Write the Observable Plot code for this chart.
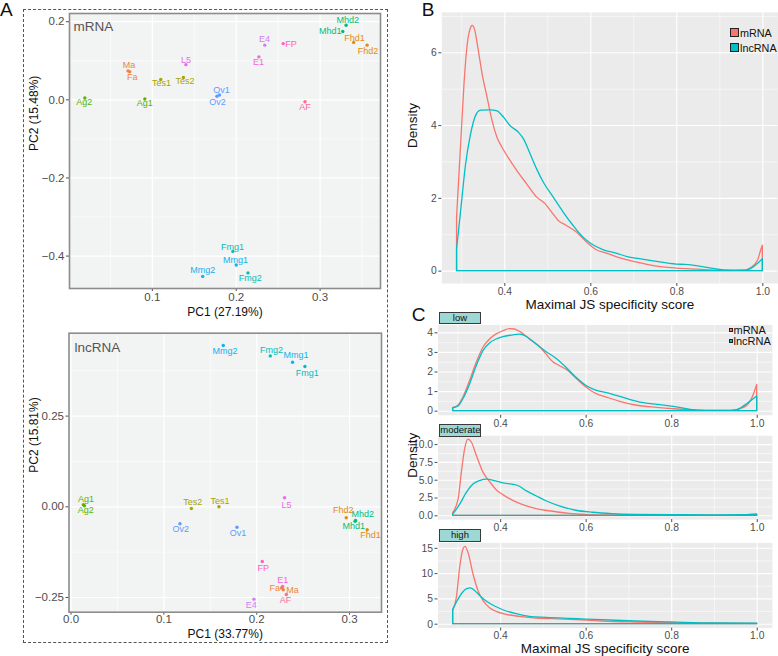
<!DOCTYPE html>
<html><head><meta charset="utf-8">
<script src="https://cdn.jsdelivr.net/npm/d3@7"></script>
<script src="https://cdn.jsdelivr.net/npm/@observablehq/plot@0.6"></script>
<style>
body{margin:0;background:#fff;}
#root{position:relative;width:778px;height:656px;font-family:"Liberation Sans",Arial,Helvetica,sans-serif;overflow:hidden;background:#fff}
.lbl{position:absolute;white-space:nowrap}
</style>
</head><body><div id="root"></div>
<script>
// ---------- Panel A data ----------
const groupNames  = ["AF","Ag","E1","E4","FP","Fa","Fhd","Fmg","L5","Ma","Mhd","Mmg","Ov","Tes"];
const groupColors = ["#FF6A98","#5BB300","#F564D9","#D27EF3","#FF61BF","#F0843F","#E38B10","#00BFB9","#E96BEA","#F0843F","#00BE78","#12B2EE","#5F9BFF","#A8A400"];

const mrnaNames   = ["Ag2","Ag1","Ma","Fa","Tes1","Tes2","L5","Ov1","Ov2","E1","E4","FP","AF","Mhd1","Mhd2","Fhd1","Fhd2","Fmg1","Mmg1","Mmg2","Fmg2"];
const mrnaPC1     = [0.0195,0.091,0.071,0.073,0.110,0.137,0.140,0.180,0.177,0.227,0.234,0.256,0.282,0.327,0.331,0.340,0.356,0.196,0.200,0.160,0.214];
const mrnaPC2     = [0.0045,0.002,0.074,0.072,0.052,0.057,0.090,0.0125,0.009,0.110,0.140,0.144,-0.005,0.175,0.191,0.147,0.140,-0.388,-0.423,-0.452,-0.443];
const mrnaLabPC1  = [0.0188,0.091,0.072,0.076,0.111,0.139,0.140,0.1824,0.1776,0.2266,0.2337,0.2653,0.282,0.3122,0.333,0.3409,0.357,0.1956,0.1992,0.1602,0.2167];
const mrnaLabPC2  = [-0.006,-0.009,0.088,0.058,0.043,0.047,0.1025,0.025,-0.005,0.097,0.156,0.142,-0.019,0.1767,0.203,0.159,0.1256,-0.376,-0.4106,-0.4352,-0.4573];
const mrnaXTicks  = [0.1,0.2,0.3];
const mrnaXMinor  = [0.05,0.15,0.25,0.35];
const mrnaYTicks  = [-0.4,-0.2,0,0.2];
const mrnaYMinor  = [-0.3,-0.1,0.1];

const lncNames    = ["Mmg2","Fmg2","Mmg1","Fmg1","Ag1","Ag2","Tes2","Tes1","L5","Ov2","Ov1","Fhd2","Mhd2","Mhd1","Fhd1","FP","E1","Fa","Ma","AF","E4"];
const lncPC1      = [0.164,0.2146,0.2386,0.2519,0.0133,0.0144,0.1296,0.1593,0.230,0.1173,0.1787,0.2964,0.3065,0.306,0.319,0.206,0.2279,0.2268,0.2286,0.2319,0.197];
const lncPC2      = [0.4446,0.416,0.3986,0.3867,0.0055,0.003,-0.0047,0.0,0.0248,-0.0469,-0.0562,-0.0303,-0.0378,-0.040,-0.0634,-0.1508,-0.2197,-0.224,-0.2288,-0.2417,-0.2545];
const lncLabPC1   = [0.1658,0.216,0.2422,0.2545,0.0161,0.0158,0.131,0.1604,0.2322,0.1181,0.1798,0.2932,0.3143,0.3046,0.3226,0.2071,0.2279,0.2193,0.2386,0.2311,0.1942];
const lncLabPC2   = [0.4289,0.4327,0.417,0.3683,0.0201,-0.0094,0.0127,0.0154,0.0055,-0.0626,-0.0728,-0.0102,-0.0212,-0.0535,-0.0772,-0.17,-0.2012,-0.2252,-0.2288,-0.2583,-0.2712];
const lncXTicks   = [0,0.1,0.2,0.3];
const lncXMinor   = [0.05,0.15,0.25];
const lncYTicks   = [-0.25,0,0.25];
const lncYMinor   = [-0.125,0.125,0.375];

// ---------- Panels B / C data ----------
const seriesNames  = ["mRNA","lncRNA"];
const seriesColors = ["#F8766D","#00BFC4"];
const densXTicks = [0.4,0.6,0.8,1.0];
const densXMinor = [0.3,0.5,0.7,0.9];

const bMrnaX = [0.289,0.2985,0.3062,0.3138,0.32,0.3254,0.3308,0.3385,0.3485,0.36,0.3715,0.3831,0.3946,0.4062,0.4292,0.4523,0.4754,0.4946,0.51,0.5254,0.5446,0.5677,0.5908,0.6138,0.6369,0.6754,0.7138,0.75,0.8,0.85,0.9,0.93,0.958,0.974,0.989,0.997,1.0];
const bMrnaY = [1.47,3.48,5.12,6.22,6.63,6.74,6.63,6.13,5.40,4.76,4.12,3.66,3.39,3.16,2.75,2.38,2.02,1.84,1.61,1.38,1.24,1.06,0.79,0.575,0.484,0.33,0.22,0.13,0.07,0.04,0.01,0.0,0.01,0.09,0.29,0.6,0.7];
const bLncX  = [0.289,0.2985,0.31,0.3215,0.3331,0.3446,0.3677,0.3831,0.3985,0.4138,0.4331,0.4446,0.46,0.4754,0.4908,0.5138,0.5369,0.56,0.5831,0.6023,0.6292,0.66,0.6908,0.7138,0.75,0.8,0.82,0.85,0.88,0.91,0.96,0.977,0.989,1.0];
const bLncY  = [0.6,1.65,2.93,3.75,4.26,4.41,4.42,4.39,4.21,3.98,3.80,3.62,3.21,2.79,2.43,2.02,1.61,1.24,0.92,0.74,0.58,0.48,0.37,0.33,0.26,0.18,0.17,0.13,0.07,0.02,0.01,0.09,0.2,0.33];
const bYTicks = [0,2,4,6];
const bYMinor = [1,3,5,7];

const lowMrnaX = [0.289,0.3016,0.3132,0.3287,0.3442,0.3597,0.3752,0.3907,0.4062,0.4217,0.4333,0.4488,0.4682,0.4915,0.507,0.5225,0.538,0.5574,0.5767,0.6,0.6233,0.6465,0.6775,0.7163,0.766,0.805,0.844,0.883,0.94,0.969,0.988,1.0];
const lowMrnaY = [0.15,0.29,0.71,1.55,2.48,3.24,3.66,3.92,4.08,4.19,4.17,4.0,3.66,3.29,2.9,2.51,2.31,2.06,1.67,1.22,0.88,0.71,0.49,0.29,0.17,0.10,0.05,0.02,0.02,0.17,0.63,1.34];
const lowLncX  = [0.289,0.3016,0.3132,0.3287,0.3442,0.3597,0.3752,0.3907,0.4062,0.4256,0.445,0.4605,0.4837,0.507,0.5302,0.5535,0.5767,0.6,0.6233,0.6465,0.6698,0.7008,0.7318,0.766,0.805,0.844,0.883,0.94,0.953,0.977,1.0];
const lowLncY  = [0.15,0.24,0.62,1.38,2.31,3.07,3.46,3.66,3.78,3.86,3.91,3.8,3.4,3.02,2.68,2.23,1.72,1.30,1.05,0.93,0.79,0.59,0.42,0.32,0.22,0.07,0.02,0.02,0.05,0.37,0.75];
const lowYTicks = [0,1,2,3,4];
const lowYMinor = [0.5,1.5,2.5,3.5];

const modMrnaX = [0.289,0.3016,0.3093,0.317,0.3248,0.3326,0.3442,0.3597,0.3752,0.3907,0.4062,0.4295,0.4527,0.4837,0.5225,0.5612,0.6,0.6775,0.75,0.85,0.95,1.0];
const modMrnaY = [0.4,2.27,6.07,9.38,10.7,10.3,8.44,6.07,4.74,3.6,2.9,2.1,1.5,0.95,0.57,0.28,0.14,0.05,0.03,0.02,0.02,0.05];
const modLncX  = [0.289,0.3054,0.3209,0.3364,0.3519,0.3674,0.3868,0.4062,0.4295,0.445,0.4605,0.4837,0.507,0.538,0.5767,0.6155,0.662,0.716,0.8,0.9,0.97,1.0];
const modLncY  = [0.15,1.56,3.22,4.41,4.88,5.07,4.88,4.55,4.36,4.08,3.46,2.75,2.04,1.33,0.71,0.43,0.24,0.14,0.1,0.06,0.08,0.2];
const modYTicks = [0,2.5,5,7.5,10];
const modYMinor = [1.25,3.75,6.25,8.75];

const highMrnaX = [0.289,0.2977,0.3054,0.3132,0.3178,0.3248,0.3364,0.3481,0.3597,0.3752,0.3907,0.414,0.445,0.4837,0.5225,0.5612,0.6,0.6388,0.7163,0.8,0.9,1.0];
const highMrnaY = [2.63,5.26,11.2,14.8,15.3,14.1,9.87,6.58,4.6,3.16,2.43,1.84,1.45,1.12,0.99,0.86,0.72,0.53,0.33,0.2,0.1,0.05];
const highLncX  = [0.289,0.2977,0.3093,0.3209,0.3302,0.3403,0.3519,0.3674,0.3868,0.4062,0.4372,0.4682,0.507,0.5612,0.6,0.6388,0.7163,0.8,0.9,1.0];
const highLncY  = [2.83,4.28,5.92,6.91,7.1,6.58,5.59,4.47,3.49,2.76,1.97,1.45,1.25,1.05,0.92,0.79,0.53,0.35,0.15,0.1];
const highYTicks = [0,5,10,15];
const highYMinor = [2.5,7.5,12.5];

const strips = ["low","moderate","high"];

// ---------- helpers ----------
const FONT = '"Liberation Sans", Arial, Helvetica, sans-serif';
const root = document.getElementById("root");
function place(node, l, t){ node.style.position="absolute"; node.style.left=l+"px"; node.style.top=t+"px"; root.appendChild(node); return node; }
function div(text, l, t, css){ const d=document.createElement("div"); d.className="lbl"; d.textContent=text; Object.assign(d.style, css||{}); return place(d,l,t); }
const groupOf = n => n.length > 2 ? n.replace(/\d$/,"") : n;
const f1 = d3.format(".1f"), f2 = d3.format(".2f"), f0 = d3.format("d");

function scatterPanel(c){
  const data = c.names.map((n,i)=>({name:n, group:groupOf(n), x:c.pc1[i], y:c.pc2[i], lx:c.lx[i], ly:c.ly[i]}));
  return Plot.plot({
    width:c.width, height:c.height,
    marginLeft:c.ml, marginRight:c.mr, marginTop:c.mt, marginBottom:c.mb,
    style:{fontFamily:FONT, background:"transparent", overflow:"visible"},
    x:{domain:c.xDomain}, y:{domain:c.yDomain},
    color:{domain:groupNames, range:groupColors},
    marks:[
      Plot.frame({fill:"#F2F3F3", stroke:"none"}),
      Plot.ruleX(c.xMinor,{stroke:"white", strokeWidth:0.6}),
      Plot.ruleY(c.yMinor,{stroke:"white", strokeWidth:0.6}),
      Plot.ruleX(c.xTicks,{stroke:"white", strokeWidth:1.2}),
      Plot.ruleY(c.yTicks,{stroke:"white", strokeWidth:1.2}),
      Plot.axisX({ticks:c.xTicks, tickFormat:c.fx, tickSize:3, tickPadding:c.xPad, fontSize:11.5, color:"#4D4D4D", label:null}),
      Plot.axisY({ticks:c.yTicks, tickFormat:c.fy, tickSize:3, tickPadding:2, fontSize:11.5, color:"#4D4D4D", label:null}),
      Plot.dot(data,{x:"x", y:"y", r:1.7, fill:"group", stroke:"none"}),
      Plot.text(data,{x:"lx", y:"ly", text:"name", fill:"group", fontSize:9}),
      Plot.text([c.title],{frameAnchor:"top-left", dx:c.tdx, dy:c.tdy, textAnchor:"start", lineAnchor:"middle", fontSize:13.5, fill:"#555"}),
      Plot.text([c.xLabel],{frameAnchor:"bottom", dy:c.xLabDy, lineAnchor:"middle", fontSize:12, fill:"#111"}),
      Plot.text([c.yLabel],{frameAnchor:"left", dx:-35, rotate:-90, lineAnchor:"middle", fontSize:12, fill:"#111"}),
      Plot.frame({stroke:"#8C8C8C", strokeWidth:1.6})
    ]
  });
}

function densityPanel(c){
  const rows = [];
  c.series.forEach((s,k)=>{ s.x.forEach((x,i)=>rows.push({series:seriesNames[k], x, y:s.y[i]})); });
  const marks = [
    Plot.frame({fill:"#EBEBEB", stroke:"none"}),
    Plot.ruleX(densXMinor,{stroke:"white", strokeWidth:0.55}),
    Plot.ruleY(c.yMinor,{stroke:"white", strokeWidth:0.55}),
    Plot.ruleX(densXTicks,{stroke:"white", strokeWidth:1.1}),
    Plot.ruleY(c.yTicks,{stroke:"white", strokeWidth:1.1}),
    Plot.axisX({ticks:densXTicks, tickFormat:f1, tickSize:3, tickPadding:1, fontSize:10.3, color:"#4D4D4D", label:null}),
    Plot.axisY({ticks:c.yTicks, tickFormat:c.fy, tickSize:3, tickPadding:2, fontSize:10.3, color:"#4D4D4D", label:null})
  ];
  seriesNames.forEach(name=>{
    marks.push(Plot.areaY(rows.filter(r=>r.series===name),{x:"x", y:"y", fill:"none", stroke:"series", strokeWidth:1.3, curve:"monotone-x"}));
  });
  if (c.yTitle) marks.push(Plot.text([c.yTitle],{frameAnchor:"left", dx:c.yTitleDx, rotate:-90, lineAnchor:"middle", fontSize:13.5, fill:"#111"}));
  if (c.xTitle) marks.push(Plot.text([c.xTitle],{frameAnchor:"bottom", dy:c.xTitleDy, lineAnchor:"middle", fontSize:13.5, fill:"#111"}));
  return Plot.plot({
    width:c.width, height:c.height,
    marginLeft:c.ml, marginRight:c.mr, marginTop:c.mt, marginBottom:c.mb,
    style:{fontFamily:FONT, background:"transparent", overflow:"visible"},
    x:{domain:[0.2535,1.0355]}, y:{domain:c.yDomain},
    color:{domain:seriesNames, range:seriesColors},
    marks
  });
}

// ---------- Panel A ----------
const box = document.createElement("div");
Object.assign(box.style,{width:"365.6px", height:"634.3px", border:"1px dashed #555", boxSizing:"border-box"});
place(box, 22.7, 9);

place(scatterPanel({names:mrnaNames, pc1:mrnaPC1, pc2:mrnaPC2, lx:mrnaLabPC1, ly:mrnaLabPC2,
  width:365, height:315, ml:49, mr:5, mt:5, mb:35, xPad:1,
  xDomain:[0.0012,0.372], yDomain:[-0.483,0.221],
  xTicks:mrnaXTicks, xMinor:mrnaXMinor, yTicks:mrnaYTicks, yMinor:mrnaYMinor, fx:f1, fy:f1,
  title:"mRNA", tdx:4, tdy:12.7, xLabel:"PC1 (27.19%)", yLabel:"PC2 (15.48%)", xLabDy:23.7}), 20, 8);

place(scatterPanel({names:lncNames, pc1:lncPC1, pc2:lncPC2, lx:lncLabPC1, ly:lncLabPC2,
  width:365, height:320, ml:48.5, mr:4, mt:7.7, mb:33.3, xPad:0,
  xDomain:[-0.0022,0.3344], yDomain:[-0.2905,0.4785],
  xTicks:lncXTicks, xMinor:lncXMinor, yTicks:lncYTicks, yMinor:lncYMinor, fx:f1, fy:f2,
  title:"lncRNA", tdx:5.5, tdy:14.6, xLabel:"PC1 (33.77%)", yLabel:"PC2 (15.81%)", xLabDy:22.3}), 20, 325);

// ---------- Panel B ----------
place(densityPanel({series:[{x:bMrnaX,y:bMrnaY},{x:bLncX,y:bLncY}],
  width:383, height:318, ml:46.3, mr:0.4, mt:11.9, mb:35,
  yDomain:[-0.34,7.11], yTicks:bYTicks, yMinor:bYMinor, fy:f0,
  yTitle:"Density", yTitleDx:-29.6, xTitle:"Maximal JS specificity score", xTitleDy:21}), 395, 0);

// ---------- Panel C ----------
place(densityPanel({series:[{x:lowMrnaX,y:lowMrnaY},{x:lowLncX,y:lowLncY}],
  width:383, height:110, ml:42.5, mr:6.1, mt:6.5, mb:13.2,
  yDomain:[-0.21,4.4], yTicks:lowYTicks, yMinor:lowYMinor, fy:f0}), 395, 318);
place(densityPanel({series:[{x:modMrnaX,y:modMrnaY},{x:modLncX,y:modLncY}],
  width:383, height:100, ml:42.5, mr:6.1, mt:7.3, mb:8.9,
  yDomain:[-0.535,11.24], yTicks:modYTicks, yMinor:modYMinor, fy:f1,
  yTitle:"Density", yTitleDx:-25.8}), 395, 428);
place(densityPanel({series:[{x:highMrnaX,y:highMrnaY},{x:highLncX,y:highLncY}],
  width:383, height:121, ml:42.5, mr:6.1, mt:7.4, mb:28.4,
  yDomain:[-0.77,16.07], yTicks:highYTicks, yMinor:highYMinor, fy:f0,
  xTitle:"Maximal JS specificity score", xTitleDy:20.7}), 395, 535);

// strips
const stripTops = [312, 424.3, 529.4];
strips.forEach((s,i)=>{
  div(s, 439.3, stripTops[i], {width:"41.3px", height:"12.3px", boxSizing:"border-box", border:"1px solid #3a3a3a",
    background:"#9ED8D4", fontSize:"9.5px", lineHeight:"10.3px", textAlign:"center", color:"#111"});
});

// legends
seriesNames.forEach((n,i)=>{
  div("", 730, 28.3+15*i, {width:"8.7px", height:"8.7px", boxSizing:"border-box", border:"0.9px solid #222", background:seriesColors[i]});
  div(n, 740, 26.7+15*i, {fontSize:"10.8px", lineHeight:"12px", color:"#111"});
  div("", 729.3, 328.3+10.7*i, {width:"4.2px", height:"4.2px", boxSizing:"border-box", border:"0.7px solid #222", background:seriesColors[i]});
  div(n, 733.5, 324.8+10.7*i, {fontSize:"11px", lineHeight:"11px", color:"#111"});
});

// panel letters
div("A", 0, 0, {fontSize:"19px", lineHeight:"20px", color:"#111"});
div("B", 421.7, 0, {fontSize:"19px", lineHeight:"20px", color:"#111"});
div("C", 411.7, 304.5, {fontSize:"19px", lineHeight:"20px", color:"#111"});
</script></body></html>
